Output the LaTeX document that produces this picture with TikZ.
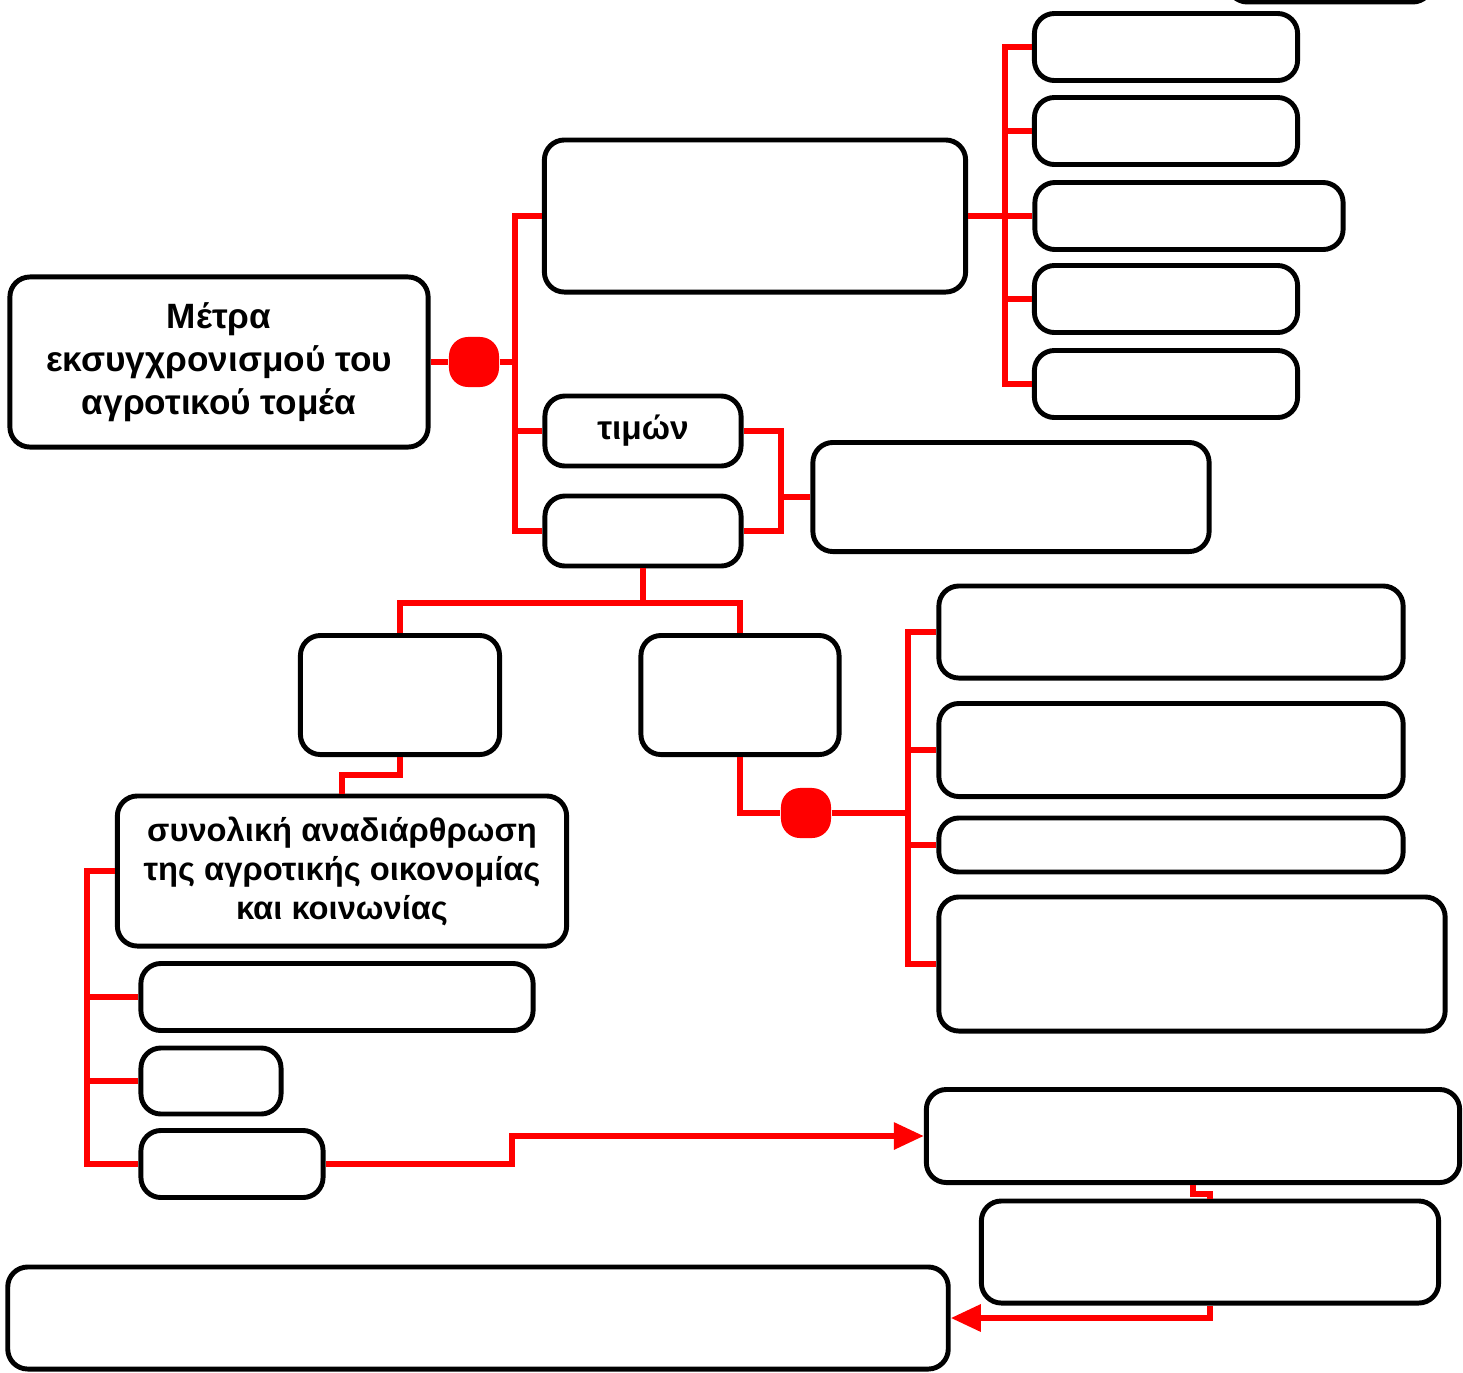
\documentclass[tikz,border=0pt]{standalone}
\usepackage{fontspec}
\setmainfont{Liberation Sans}
\usetikzlibrary{arrows.meta}
\begin{document}
\begin{tikzpicture}[x=0.01cm,y=-0.01cm,font=\bfseries,
  box/.style={draw=black,line width=1.4pt,rounded corners=0.2cm,align=center,inner sep=0pt},
  link/.style={draw=red,line width=1.7pt},
  dot/.style={fill=red,rounded corners=0.19cm,minimum size=0.5cm,inner sep=0pt},
  tip/.style={-{Triangle[length=0.3cm,width=0.26cm]}}]
\clip (0,0) rectangle (1463,1372);

\node[box,minimum width=2.05cm,minimum height=0.64cm] (top) at (1330,-30) {};
\node[box,minimum width=4.18cm,minimum height=1.70cm,font=\fontsize{10}{12.2}\selectfont\bfseries] (main) at (219,362) {Μέτρα\\εκσυγχρονισμού του\\αγροτικού τομέα};
\node[box,minimum width=4.21cm,minimum height=1.52cm] (big) at (755,216) {};

\node[box,minimum width=2.63cm,minimum height=0.67cm] (r1) at (1166,47) {};
\node[box,minimum width=2.63cm,minimum height=0.67cm] (r2) at (1166,131) {};
\node[box,minimum width=3.08cm,minimum height=0.67cm] (r3) at (1189,216) {};
\node[box,minimum width=2.63cm,minimum height=0.67cm] (r4) at (1166,299) {};
\node[box,minimum width=2.63cm,minimum height=0.67cm] (r5) at (1166,384) {};

\node[box,minimum width=1.96cm,minimum height=0.70cm,font=\fontsize{9.5}{11}\selectfont\bfseries] (timon) at (643,431) {τιμών};
\node[box,minimum width=1.96cm,minimum height=0.70cm] (below) at (643,531) {};
\node[box,minimum width=3.96cm,minimum height=1.09cm] (side) at (1011,497) {};

\node[box,minimum width=1.99cm,minimum height=1.19cm] (lmid) at (400,695) {};
\node[box,minimum width=1.98cm,minimum height=1.19cm] (rmid) at (740,695) {};

\node[box,minimum width=4.49cm,minimum height=1.50cm,font=\fontsize{9.3}{11.1}\selectfont\bfseries] (syn) at (342,871) {συνολική αναδιάρθρωση\\της αγροτικής οικονομίας\\και κοινωνίας};
\node[box,minimum width=3.92cm,minimum height=0.67cm] (l1) at (337,997) {};
\node[box,minimum width=1.40cm,minimum height=0.66cm] (l2) at (211,1081) {};
\node[box,minimum width=1.82cm,minimum height=0.67cm] (l3) at (232,1164) {};

\node[box,minimum width=4.64cm,minimum height=0.92cm] (q1) at (1171,632) {};
\node[box,minimum width=4.64cm,minimum height=0.93cm] (q2) at (1171,750) {};
\node[box,minimum width=4.64cm,minimum height=0.54cm] (q3) at (1171,845) {};
\node[box,minimum width=5.06cm,minimum height=1.34cm] (q4) at (1192,964) {};

\node[box,minimum width=5.33cm,minimum height=0.93cm] (s1) at (1193,1136) {};
\node[box,minimum width=4.57cm,minimum height=1.02cm] (s2) at (1210,1252) {};
\node[box,minimum width=9.40cm,minimum height=1.02cm] (bottom) at (478,1318) {};

\node[dot] (dot1) at (474,362) {};
\node[dot] (dot2) at (806,813) {};

\coordinate (j1) at (515,362);
\coordinate (j2) at (1005,216);
\coordinate (j3) at (781,497);
\coordinate (j4) at (643,603);
\coordinate (j5) at (400,775);
\coordinate (j6) at (908,813);
\coordinate (j7) at (87,1081);
\coordinate (j8) at (512,1164);

\draw[link] (main.east) -- (dot1) -- (j1);
\draw[link] (big.west) -| (j1);
\draw[link] (timon.west) -| (j1);
\draw[link] (below.west) -| (j1);

\draw[link] (big.east) -- (j2);
\foreach \r in {r1,r2,r3,r4,r5}
  \draw[link] (\r.west) -| (j2);

\draw[link] (timon.east) -| (j3);
\draw[link] (below.east) -| (j3);
\draw[link] (j3) -- (side.west);

\draw[link] (below.south) -- (j4) -| (lmid.north);
\draw[link] (j4) -| (rmid.north);
\draw[link] (lmid.south) -- (j5) -| (syn.north);

\draw[link] (rmid.south) |- (dot2.west);
\draw[link] (dot2) -- (j6);
\foreach \q in {q1,q2,q3,q4}
  \draw[link] (\q.west) -| (j6);

\draw[link] (syn.west) -| (j7);
\foreach \l in {l1,l2,l3}
  \draw[link] (\l.west) -| (j7);

\draw[link,tip] (l3.east) -- (j8) |- (s1.west);
\draw[link] (s1.south) -- ++(0,9) -| (s2.north);
\draw[link,tip] (s2.south) |- (bottom.east);
\end{tikzpicture}
\end{document}
